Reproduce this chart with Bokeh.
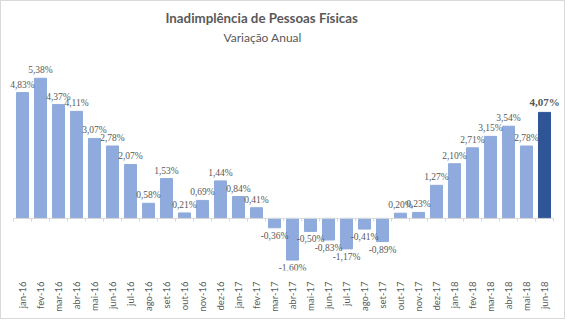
import math
from bokeh.plotting import figure
from bokeh.models import ColumnDataSource, Title, FixedTicker, Range1d, LabelSet
from bokeh.embed import file_html
from bokeh.resources import INLINE

months = ["jan-16", "fev-16", "mar-16", "abr-16", "mai-16", "jun-16", "jul-16", "ago-16",
          "set-16", "out-16", "nov-16", "dez-16", "jan-17", "fev-17", "mar-17", "abr-17",
          "mai-17", "jun-17", "jul-17", "ago-17", "set-17", "out-17", "nov-17", "dez-17",
          "jan-18", "fev-18", "mar-18", "abr-18", "mai-18", "jun-18"]
values = [4.83, 5.38, 4.37, 4.11, 3.07, 2.78, 2.07, 0.58, 1.53, 0.21, 0.69, 1.44, 0.84, 0.41,
          -0.36, -1.60, -0.50, -0.83, -1.17, -0.41, -0.89, 0.20, 0.23, 1.27, 2.10, 2.71,
          3.15, 3.54, 2.78, 4.07]
title_text = "Inadimplência de Pessoas Físicas"
subtitle_text = "Variação Anual"

FONT = "Lato"
GRAY = "#595959"
LIGHT = "#8FAADC"
DARK = "#2F5597"

n = len(months)
xs = list(range(n))
labels = [f"{v:.2f}".replace(".", ",") + "%" for v in values]
colors = [LIGHT] * (n - 1) + [DARK]

src_all = ColumnDataSource(dict(x=xs, top=values, color=colors, label=labels))
pos = [i for i in range(n - 1) if values[i] >= 0]
neg = [i for i in range(n - 1) if values[i] < 0]
src_pos = ColumnDataSource(dict(x=pos, y=[values[i] for i in pos], label=[labels[i] for i in pos]))
src_neg = ColumnDataSource(dict(x=neg, y=[values[i] for i in neg], label=[labels[i] for i in neg]))
src_last = ColumnDataSource(dict(x=[n - 1], y=[values[-1]], label=[labels[-1]]))

W, H = 565, 319
step = 18.0            # px per category
left_pad, right_pad = 12, 13
p = figure(width=W, height=H, output_backend="svg", toolbar_location=None,
           x_range=Range1d(-0.5 - left_pad / step, n - 0.5 + right_pad / step),
           y_range=Range1d(-2.0, 6.60),
           min_border_left=0, min_border_right=0, min_border_top=45, min_border_bottom=50)
p.styles = {"border": "1px solid #D9D9D9"}
p.title = None
p.outline_line_color = None
p.xgrid.visible = False
p.ygrid.visible = False
p.yaxis.visible = False

p.xaxis.ticker = FixedTicker(ticks=xs)
p.xaxis.major_label_overrides = {i: m for i, m in enumerate(months)}
p.xaxis.major_label_orientation = math.pi / 2
p.xaxis.axis_line_color = None
p.xaxis.major_tick_line_color = None
p.xaxis.minor_tick_line_color = None
p.xaxis.major_label_standoff = 5
p.xaxis.major_label_text_font = FONT
p.xaxis.major_label_text_font_size = "9.5px"
p.xaxis.major_label_text_color = GRAY

p.add_layout(Title(text=subtitle_text, align="left", text_font=FONT, text_font_size="12px",
                   text_font_style="normal", text_color=GRAY, standoff=3, offset=222), "above")
p.add_layout(Title(text=title_text, align="left", text_font=FONT, text_font_size="13.3px",
                   text_font_style="bold", text_color=GRAY, standoff=2, offset=164), "above")

p.vbar(x="x", top="top", bottom=0, width=0.67, color="color", source=src_all)

# zero line with category boundary ticks
p.segment(x0=[-0.5], x1=[n - 0.5], y0=[0], y1=[0], line_color="#D9D9D9", line_width=1)
bounds = [i - 0.5 for i in range(n + 1)]
p.segment(x0=bounds, x1=bounds, y0=[0] * len(bounds), y1=[-0.12] * len(bounds),
          line_color="#D9D9D9", line_width=1)

p.add_layout(LabelSet(x="x", y="y", text="label", source=src_pos, text_align="center",
                      text_baseline="bottom", y_offset=3, text_font=FONT,
                      text_font_size="9.5px", text_color=GRAY))
p.add_layout(LabelSet(x="x", y="y", text="label", source=src_neg, text_align="center",
                      text_baseline="top", y_offset=-3, text_font=FONT,
                      text_font_size="9.5px", text_color=GRAY))
p.add_layout(LabelSet(x="x", y="y", text="label", source=src_last, text_align="center",
                      text_baseline="bottom", y_offset=4, text_font=FONT,
                      text_font_size="11px", text_font_style="bold", text_color=GRAY))

open("out.html", "w").write(file_html(p, INLINE))
